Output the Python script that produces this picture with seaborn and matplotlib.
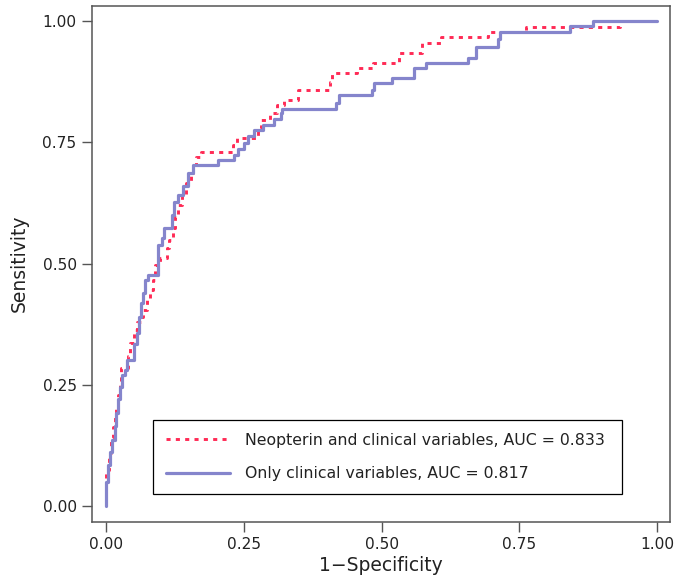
import numpy as np
import pandas as pd
import matplotlib
matplotlib.use("Agg")
import matplotlib.pyplot as plt
import seaborn as sns

# ROC step vertices: (false positive rate at the riser, sensitivity before the riser)
neo_fpr = [0.000, 0.005, 0.009, 0.013, 0.016, 0.019, 0.022, 0.025, 0.028, 0.040,
           0.044, 0.050, 0.056, 0.064, 0.068, 0.074, 0.080, 0.085, 0.089, 0.098,
           0.110, 0.115, 0.122, 0.125, 0.131, 0.137, 0.146, 0.154, 0.158, 0.164,
           0.173, 0.231, 0.237, 0.276, 0.282, 0.2975, 0.310, 0.322, 0.349, 0.406,
           0.410, 0.455, 0.485, 0.531, 0.574, 0.607, 0.693, 0.762, 0.932, 1.000]
neo_tpr = [0.000, 0.075, 0.110, 0.140, 0.164, 0.185, 0.2055, 0.230, 0.254, 0.2846,
           0.310, 0.336, 0.3635, 0.380, 0.391, 0.405, 0.4253, 0.445, 0.4665, 0.497,
           0.511, 0.532, 0.549, 0.573, 0.597, 0.621, 0.642, 0.666, 0.686, 0.703,
           0.7205, 0.731, 0.7446, 0.758, 0.779, 0.796, 0.810, 0.827, 0.837, 0.858,
           0.875, 0.892, 0.9025, 0.914, 0.933, 0.954, 0.966, 0.978, 0.988, 1.000]

clin_fpr = [0.000, 0.004, 0.008, 0.011, 0.016, 0.019, 0.022, 0.026, 0.029, 0.034,
            0.038, 0.051, 0.056, 0.059, 0.063, 0.067, 0.071, 0.077, 0.095, 0.101,
            0.105, 0.119, 0.124, 0.131, 0.140, 0.149, 0.158, 0.204, 0.232, 0.240,
            0.250, 0.258, 0.268, 0.284, 0.305, 0.317, 0.320, 0.417, 0.4225, 0.482,
            0.486, 0.519, 0.559, 0.580, 0.656, 0.671, 0.712, 0.714, 0.842, 0.884,
            1.000]
clin_tpr = [0.000, 0.051, 0.085, 0.113, 0.137, 0.165, 0.192, 0.222, 0.247, 0.270,
            0.281, 0.302, 0.335, 0.357, 0.391, 0.420, 0.439, 0.4665, 0.477, 0.5386,
            0.5525, 0.573, 0.600, 0.628, 0.642, 0.659, 0.686, 0.703, 0.714, 0.724,
            0.737, 0.748, 0.762, 0.776, 0.786, 0.798, 0.810, 0.818, 0.830, 0.848,
            0.858, 0.872, 0.882, 0.9025, 0.914, 0.923, 0.946, 0.962, 0.978, 0.990,
            1.000]

labels = ["Neopterin and clinical variables, AUC = 0.833",
          "Only clinical variables, AUC = 0.817"]
ticks = [0.00, 0.25, 0.50, 0.75, 1.00]
tick_labels = ["0.00", "0.25", "0.50", "0.75", "1.00"]

sns.set_style("white")
plt.rcParams["font.family"] = ["DejaVu Sans"]

fig = plt.figure(figsize=(6.75, 5.79), dpi=100)
ax = fig.add_axes([0.1363, 0.099, 0.857, 0.8912])

neo = pd.DataFrame({"fpr": neo_fpr, "tpr": neo_tpr})
clin = pd.DataFrame({"fpr": clin_fpr, "tpr": clin_tpr})

sns.lineplot(data=neo, x="fpr", y="tpr", ax=ax, sort=False, estimator=None,
             color="#ff2a55", linewidth=2.1, linestyle=(0, (1.4, 1.8)),
             drawstyle="steps-pre", label=labels[0])
sns.lineplot(data=clin, x="fpr", y="tpr", ax=ax, sort=False, estimator=None,
             color="#8585cc", linewidth=2.3, drawstyle="steps-pre",
             label=labels[1])

ax.set_xlim(-0.0254, 1.024)
ax.set_ylim(-0.0313, 1.0313)
ax.set_xticks(ticks)
ax.set_xticklabels(tick_labels)
ax.set_yticks(ticks)
ax.set_yticklabels(tick_labels)

for side in ["left", "right", "top", "bottom"]:
    ax.spines[side].set_visible(True)
    ax.spines[side].set_color("#555555")
    ax.spines[side].set_linewidth(1.1)

ax.tick_params(axis="both", direction="out", length=7, width=1.0,
               color="#555555", labelsize=11.1, labelcolor="#222222", pad=4)
ax.tick_params(left=True, bottom=True, right=False, top=False)

ax.set_xlabel("1\u2212Specificity", fontsize=13.5, color="#222222", labelpad=3)
ax.set_ylabel("Sensitivity", fontsize=13.5, color="#222222", labelpad=10)

handles, hl = ax.get_legend_handles_labels()
leg = ax.legend(handles, hl, loc="upper left",
                bbox_to_anchor=(0.106, 0.055, 0.810, 0.142), mode="expand",
                borderaxespad=0, fontsize=11.3, frameon=True, fancybox=False,
                edgecolor="black", framealpha=1, borderpad=0.8,
                labelspacing=1.2, handlelength=4.1, handletextpad=0.95)
leg.get_frame().set_linewidth(0.9)
for t in leg.get_texts():
    t.set_color("#222222")

fig.savefig("out.png", dpi=100)
